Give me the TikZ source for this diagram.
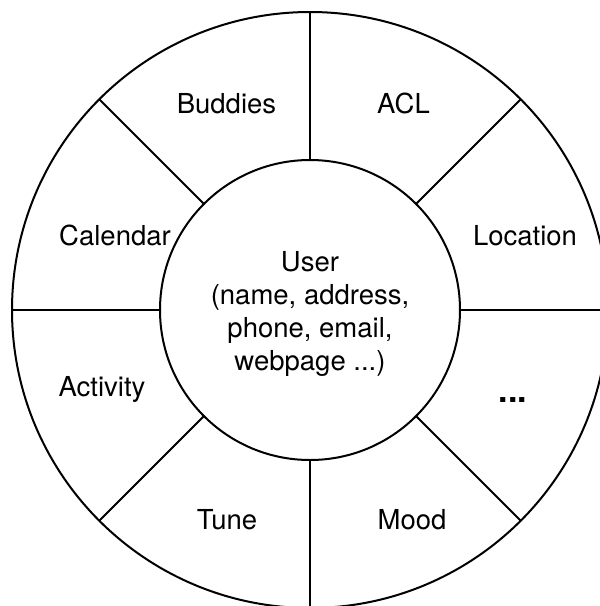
\documentclass[tikz,border=0pt]{standalone}
\usepackage{fontspec}
\setmainfont{TeX Gyre Heros}
\begin{document}
\begin{tikzpicture}[x=1pt,y=-1pt,
  ring/.style={circle,draw,line width=2pt,outer sep=0pt,inner sep=0pt},
  spoke/.style={line width=2pt},
  lab/.style={anchor=base,inner sep=0pt,font=\fontsize{27.5}{33}\selectfont}]
\useasboundingbox (0,0) rectangle (600,606);
\clip (0,0) rectangle (600,606);
\node[ring,minimum size=596pt] (outer) at (310,310) {};
\node[ring,minimum size=300pt,align=center,font=\fontsize{27.5}{33}\selectfont] (user) at (310,310) {};
\node[align=center,inner sep=0pt,font=\fontsize{27.5}{33}\selectfont] (usertext) at (310,313.5) {User\\(name, address,\\phone, email,\\webpage ...)};
\foreach \a in {0,45,...,315}
  \draw[spoke] (user.\a) -- (outer.\a);
\node[lab] (buddies) at (226.5,113) {Buddies};
\node[lab] (acl) at (403.5,113) {ACL};
\node[lab] (calendar) at (115,245) {Calendar};
\node[lab] (location) at (525,245) {Location};
\node[lab] (activity) at (102,396) {Activity};
\node[lab,font=\fontsize{34}{40}\bfseries] (more) at (513,402) {...};
\node[lab] (tune) at (227,529) {Tune};
\node[lab] (mood) at (412,529) {Mood};
\end{tikzpicture}
\end{document}
